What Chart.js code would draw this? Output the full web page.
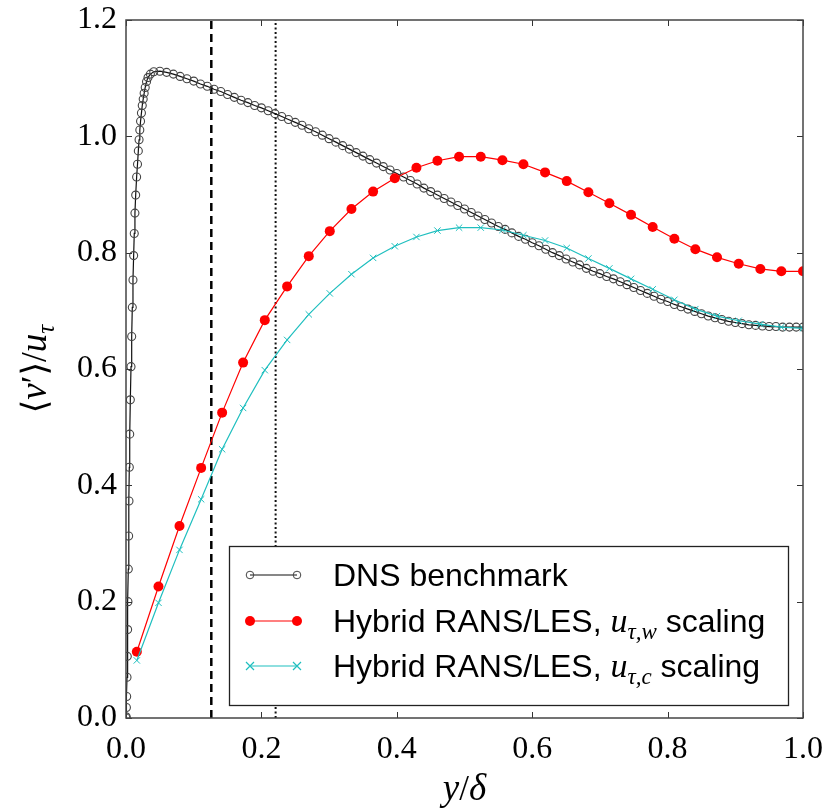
<!DOCTYPE html>
<html>
<head>
<meta charset="utf-8">
<script src="https://cdn.jsdelivr.net/npm/chart.js@4"></script>
<style>
  html, body { margin: 0; padding: 0; background: #fff; }
  #c { display: block; }
</style>
</head>
<body>
<canvas id="c" width="822" height="810"></canvas>
<script>
// Wall-normal position y/delta and DNS benchmark <v'>/u_tau
const dnsX = [
  0, 0.0003, 0.0006, 0.0010, 0.0015, 0.0019, 0.0024, 0.0029, 0.0034, 0.0039,
  0.0044, 0.0049, 0.0055, 0.0064, 0.0074, 0.0084, 0.0093, 0.0103, 0.0113, 0.0122,
  0.0132, 0.0143, 0.0157, 0.0170, 0.0182, 0.0193, 0.0204, 0.0215, 0.0228, 0.0240,
  0.0254, 0.0268, 0.0284, 0.0303, 0.0325, 0.0360, 0.0410,
  0.05, 0.06, 0.07, 0.08, 0.09, 0.10, 0.11, 0.12, 0.13, 0.14,
  0.15, 0.16, 0.17, 0.18, 0.19, 0.20, 0.21, 0.22, 0.23, 0.24,
  0.25, 0.26, 0.27, 0.28, 0.29, 0.30, 0.31, 0.32, 0.33, 0.34,
  0.35, 0.36, 0.37, 0.38, 0.39, 0.40, 0.41, 0.42, 0.43, 0.44,
  0.45, 0.46, 0.47, 0.48, 0.49, 0.50, 0.51, 0.52, 0.53, 0.54,
  0.55, 0.56, 0.57, 0.58, 0.59, 0.60, 0.61, 0.62, 0.63, 0.64,
  0.65, 0.66, 0.67, 0.68, 0.69, 0.70, 0.71, 0.72, 0.73, 0.74,
  0.75, 0.76, 0.77, 0.78, 0.79, 0.80, 0.81, 0.82, 0.83, 0.84,
  0.85, 0.86, 0.87, 0.88, 0.89, 0.90, 0.91, 0.92, 0.93, 0.94,
  0.95, 0.96, 0.97, 0.98, 0.99, 1.00
];
const dnsY = [
  0, 0.002, 0.018, 0.037, 0.070, 0.106, 0.152, 0.200, 0.256, 0.313,
  0.373, 0.431, 0.488, 0.547, 0.604, 0.656, 0.706, 0.753, 0.795, 0.833,
  0.868, 0.899, 0.930, 0.952, 0.975, 0.994, 1.011, 1.026, 1.040, 1.053,
  1.064, 1.074, 1.084, 1.094, 1.101, 1.107, 1.111,
  1.112, 1.110, 1.107, 1.103, 1.099, 1.095, 1.090, 1.086, 1.081, 1.077,
  1.072, 1.067, 1.062, 1.058, 1.053, 1.049, 1.044, 1.039, 1.034, 1.029,
  1.024, 1.019, 1.013, 1.008, 1.002, 0.996, 0.990, 0.984, 0.978, 0.972,
  0.966, 0.960, 0.954, 0.948, 0.942, 0.936, 0.930, 0.924, 0.918, 0.911,
  0.905, 0.899, 0.893, 0.887, 0.881, 0.875, 0.869, 0.863, 0.857, 0.851,
  0.845, 0.840, 0.834, 0.828, 0.823, 0.817, 0.812, 0.806, 0.800, 0.795,
  0.789, 0.784, 0.779, 0.773, 0.768, 0.764, 0.759, 0.755, 0.750, 0.745,
  0.740, 0.735, 0.730, 0.725, 0.720, 0.716, 0.711, 0.707, 0.703, 0.699,
  0.695, 0.691, 0.688, 0.685, 0.682, 0.680, 0.678, 0.676, 0.675, 0.674,
  0.673, 0.673, 0.672, 0.672, 0.672, 0.672
];

// Hybrid RANS/LES cell-centre positions
const hybX = [
  0.016, 0.048, 0.079, 0.111, 0.142, 0.173, 0.205, 0.238, 0.270, 0.301,
  0.333, 0.365, 0.397, 0.429, 0.460, 0.492, 0.524, 0.556, 0.587, 0.619,
  0.651, 0.683, 0.714, 0.746, 0.778, 0.810, 0.841, 0.873, 0.905, 0.937,
  0.968, 1.000
];
// scaled with the wall friction velocity u_tau,w
const hybWallY = [
  0.114, 0.226, 0.330, 0.430, 0.525, 0.611, 0.684, 0.742, 0.794, 0.837,
  0.875, 0.905, 0.928, 0.946, 0.958, 0.965, 0.965, 0.959, 0.952, 0.938,
  0.923, 0.904, 0.885, 0.865, 0.844, 0.824, 0.806, 0.792, 0.781, 0.772,
  0.768, 0.768
];
// scaled with the computed friction velocity u_tau,c
const hybCompY = [
  0.099, 0.198, 0.289, 0.376, 0.462, 0.533, 0.598, 0.650, 0.694, 0.730,
  0.763, 0.791, 0.811, 0.827, 0.838, 0.843, 0.843, 0.839, 0.830, 0.821,
  0.808, 0.790, 0.773, 0.755, 0.737, 0.719, 0.703, 0.691, 0.683, 0.677,
  0.672, 0.670
];

// Reference positions marked by vertical lines (dashed, dotted)
const markerLinesX = [0.126, 0.221];

const xTicks = [0.0, 0.2, 0.4, 0.6, 0.8, 1.0];
const yTicks = [0.0, 0.2, 0.4, 0.6, 0.8, 1.0, 1.2];

const legendLabels = [
  [{ t: 'DNS benchmark', k: 'sans' }],
  [{ t: 'Hybrid RANS/LES, ', k: 'sans' }, { t: 'u', k: 'math' }, { t: 'τ,w', k: 'sub' }, { t: ' scaling', k: 'sans' }],
  [{ t: 'Hybrid RANS/LES, ', k: 'sans' }, { t: 'u', k: 'math' }, { t: 'τ,c', k: 'sub' }, { t: ' scaling', k: 'sans' }]
];

const zip = (xs, ys) => ys.map((v, i) => ({ x: xs[i], y: v }));

const SERIF = '"Liberation Serif", "DejaVu Serif", serif';
const SANS = '"Liberation Sans", Arial, sans-serif';
const FONTS = {
  sans: '32px ' + SANS,
  math: 'italic 34px ' + SERIF,
  sub: 'italic 23px ' + SERIF,
  up: '35px ' + SERIF,
  it: 'italic 37px ' + SERIF,
  itsub: 'italic 25px ' + SERIF
};
const DY = { sub: 7, itsub: 8 };

function drawRich(ctx, parts, x, y) {
  let cx = x;
  for (const p of parts) {
    ctx.font = FONTS[p.k];
    ctx.fillText(p.t, cx, y + (DY[p.k] || 0));
    cx += ctx.measureText(p.t).width + (p.g || 0);
  }
  return cx - x;
}
function richWidth(ctx, parts) {
  let w = 0;
  for (const p of parts) { ctx.font = FONTS[p.k]; w += ctx.measureText(p.t).width + (p.g || 0); }
  return w;
}

const COLORS = { dnsLine: '#111111', dnsPoint: '#444444', wall: '#ff0000', comp: '#1fbfbf' };

const framePlugin = {
  id: 'frameAndAnnotations',
  afterDraw(chart) {
    const { ctx, chartArea: a, scales } = chart;
    const xs = scales.x, ys = scales.y;
    ctx.save();
    // inward ticks on all four sides
    ctx.strokeStyle = '#333';
    ctx.lineWidth = 1;
    ctx.beginPath();
    xTicks.forEach(v => {
      const p = Math.round(xs.getPixelForValue(v)) + 0.5;
      ctx.moveTo(p, a.bottom); ctx.lineTo(p, a.bottom - 6);
      ctx.moveTo(p, a.top); ctx.lineTo(p, a.top + 6);
    });
    yTicks.forEach(v => {
      const p = Math.round(ys.getPixelForValue(v)) + 0.5;
      ctx.moveTo(a.left, p); ctx.lineTo(a.left + 6, p);
      ctx.moveTo(a.right, p); ctx.lineTo(a.right - 6, p);
    });
    ctx.stroke();
    // axes frame
    ctx.strokeStyle = '#444';
    ctx.lineWidth = 1.5;
    ctx.strokeRect(a.left, a.top, a.right - a.left, a.bottom - a.top);

    // legend
    const L = { x0: 229, y0: 546, x1: 788, y1: 705 };
    ctx.fillStyle = '#fff';
    ctx.fillRect(L.x0, L.y0, L.x1 - L.x0, L.y1 - L.y0);
    ctx.strokeStyle = '#222';
    ctx.lineWidth = 1.3;
    ctx.strokeRect(L.x0 + 0.5, L.y0 + 0.5, L.x1 - L.x0, L.y1 - L.y0);
    const rows = [575, 621, 666];
    const sx0 = 250, sx1 = 297;
    // DNS sample
    ctx.strokeStyle = COLORS.dnsLine; ctx.lineWidth = 1.2;
    ctx.beginPath(); ctx.moveTo(sx0, rows[0]); ctx.lineTo(sx1, rows[0]); ctx.stroke();
    ctx.strokeStyle = COLORS.dnsPoint; ctx.lineWidth = 1;
    [sx0, sx1].forEach(px => { ctx.beginPath(); ctx.arc(px, rows[0], 3.8, 0, Math.PI * 2); ctx.stroke(); });
    // wall-scaled sample
    ctx.strokeStyle = COLORS.wall; ctx.lineWidth = 1.2;
    ctx.beginPath(); ctx.moveTo(sx0, rows[1]); ctx.lineTo(sx1, rows[1]); ctx.stroke();
    ctx.fillStyle = COLORS.wall;
    [sx0, sx1].forEach(px => { ctx.beginPath(); ctx.arc(px, rows[1], 5, 0, Math.PI * 2); ctx.fill(); });
    // computed-scaled sample
    ctx.strokeStyle = COLORS.comp; ctx.lineWidth = 1.2;
    ctx.beginPath(); ctx.moveTo(sx0, rows[2]); ctx.lineTo(sx1, rows[2]); ctx.stroke();
    [sx0, sx1].forEach(px => {
      ctx.beginPath();
      ctx.moveTo(px - 4, rows[2] - 4); ctx.lineTo(px + 4, rows[2] + 4);
      ctx.moveTo(px - 4, rows[2] + 4); ctx.lineTo(px + 4, rows[2] - 4);
      ctx.stroke();
    });
    ctx.fillStyle = '#000';
    ctx.textBaseline = 'alphabetic';
    ctx.textAlign = 'left';
    legendLabels.forEach((parts, i) => drawRich(ctx, parts, 333, rows[i] + 11));

    // x axis title  y/δ
    const xt = [{ t: 'y', k: 'it' }, { t: '/', k: 'up' }, { t: 'δ', k: 'it' }];
    const xw = richWidth(ctx, xt);
    drawRich(ctx, xt, (a.left + a.right) / 2 - xw / 2, 800);

    // y axis title  ⟨v′⟩/u_τ
    const yt = [{ t: '⟨', k: 'up' }, { t: 'v', k: 'it' }, { t: '′', k: 'up' }, { t: '⟩', k: 'up' },
                { t: '/', k: 'up' }, { t: 'u', k: 'it' }, { t: 'τ', k: 'itsub' }];
    const yw = richWidth(ctx, yt);
    ctx.translate(46, (a.top + a.bottom) / 2);
    ctx.rotate(-Math.PI / 2);
    drawRich(ctx, yt, -yw / 2, 0);
    ctx.restore();
  }
};

function fixedSize(prop, size) {
  return function (s) {
    s[prop] = size;
    s.paddingLeft = 0; s.paddingRight = 0; s.paddingTop = 0; s.paddingBottom = 0;
  };
}

new Chart(document.getElementById('c'), {
  type: 'line',
  data: {
    datasets: [
      {
        label: 'DNS benchmark',
        data: zip(dnsX, dnsY),
        borderColor: COLORS.dnsLine,
        borderWidth: 1.2,
        pointStyle: 'circle',
        pointRadius: 4,
        pointBorderWidth: 1.1,
        pointBorderColor: COLORS.dnsPoint,
        pointBackgroundColor: 'rgba(0,0,0,0)',
        tension: 0,
        clip: 0,
        order: 3
      },
      {
        label: 'Hybrid RANS/LES, u_tau,w scaling',
        data: zip(hybX, hybWallY),
        borderColor: COLORS.wall,
        borderWidth: 1.2,
        pointStyle: 'circle',
        pointRadius: 5,
        pointBorderWidth: 0,
        pointBackgroundColor: COLORS.wall,
        tension: 0,
        clip: 0,
        order: 2
      },
      {
        label: 'Hybrid RANS/LES, u_tau,c scaling',
        data: zip(hybX, hybCompY),
        borderColor: COLORS.comp,
        borderWidth: 1.2,
        pointStyle: 'crossRot',
        pointRadius: 4.5,
        pointBorderWidth: 1,
        pointBorderColor: COLORS.comp,
        tension: 0,
        clip: 0,
        order: 1
      },
      {
        label: 'dashed marker',
        data: [{ x: markerLinesX[0], y: 0 }, { x: markerLinesX[0], y: 1.2 }],
        borderColor: '#000',
        borderWidth: 2.5,
        borderDash: [8, 5],
        pointRadius: 0,
        clip: 0,
        order: 4
      },
      {
        label: 'dotted marker',
        data: [{ x: markerLinesX[1], y: 0 }, { x: markerLinesX[1], y: 1.2 }],
        borderColor: '#111',
        borderWidth: 2,
        borderDash: [2, 2.5],
        pointRadius: 0,
        clip: 0,
        order: 4
      }
    ]
  },
  options: {
    responsive: false,
    animation: false,
    devicePixelRatio: 1,
    layout: { padding: { left: 0, top: 20, right: 19, bottom: 0 } },
    plugins: { legend: { display: false }, tooltip: { enabled: false } },
    scales: {
      x: {
        type: 'linear',
        min: 0, max: 1,
        afterFit: fixedSize('height', 92),
        afterBuildTicks(s) { s.ticks = xTicks.map(v => ({ value: v })); },
        grid: { display: false, drawTicks: false },
        border: { display: false },
        ticks: {
          padding: 12,
          color: '#000',
          font: { family: SERIF, size: 32 },
          callback: v => v.toFixed(1)
        }
      },
      y: {
        type: 'linear',
        min: 0, max: 1.2,
        afterFit: fixedSize('width', 126),
        afterBuildTicks(s) { s.ticks = yTicks.map(v => ({ value: v })); },
        grid: { display: false, drawTicks: false },
        border: { display: false },
        ticks: {
          padding: 9,
          color: '#000',
          font: { family: SERIF, size: 32 },
          callback: v => v.toFixed(1)
        }
      }
    }
  },
  plugins: [framePlugin]
});
</script>
</body>
</html>
